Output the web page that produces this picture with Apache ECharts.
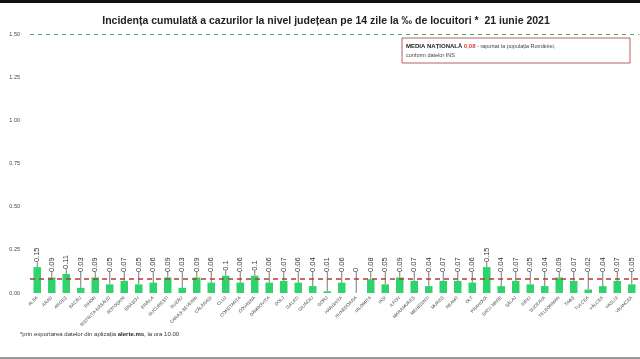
<!DOCTYPE html>
<html><head><meta charset="utf-8">
<script src="https://cdn.jsdelivr.net/npm/echarts@6/dist/echarts.min.js"></script>
<style>html,body{margin:0;padding:0;background:#fff}#c{width:640px;height:359px}</style>
</head><body><div id="c"></div>
<script>
const counties = ["ALBA","ARAD","ARGEȘ","BACĂU","BIHOR","BISTRIȚA-NĂSĂUD","BOTOȘANI","BRAȘOV","BRĂILA","BUCUREȘTI","BUZĂU","CARAȘ-SEVERIN","CĂLĂRAȘI","CLUJ","CONSTANȚA","COVASNA","DÂMBOVIȚA","DOLJ","GALAȚI","GIURGIU","GORJ","HARGHITA","HUNEDOARA","IALOMIȚA","IAȘI","ILFOV","MARAMUREȘ","MEHEDINȚI","MUREȘ","NEAMȚ","OLT","PRAHOVA","SATU MARE","SĂLAJ","SIBIU","SUCEAVA","TELEORMAN","TIMIȘ","TULCEA","VÂLCEA","VASLUI","VRANCEA"];
const incidence = [0.15,0.09,0.11,0.03,0.09,0.05,0.07,0.05,0.06,0.09,0.03,0.09,0.06,0.1,0.06,0.1,0.06,0.07,0.06,0.04,0.01,0.06,0,0.08,0.05,0.09,0.07,0.04,0.07,0.07,0.06,0.15,0.04,0.07,0.05,0.04,0.09,0.07,0.02,0.04,0.07,0.05];
const nationalAverage = 0.08;
const thresholdLine = 1.5;
const yTicks = [0,0.25,0.5,0.75,1,1.25,1.5];

const chart = echarts.init(document.getElementById('c'));
chart.setOption({
  animation:false,
  backgroundColor:'#fff',
  title:{
    text:'Incidența cumulată a cazurilor la nivel județean pe 14 zile la ‰ de locuitori *  21 iunie 2021',
    left:321, top:11, textAlign:'center',
    textStyle:{fontFamily:'Liberation Sans',fontSize:10.5,fontWeight:'bold',color:'#222'}
  },
  grid:{left:30,right:1,top:34,bottom:66},
  xAxis:{
    type:'category', data:counties,
    axisLine:{show:false}, axisTick:{show:false},
    axisLabel:{interval:0,rotate:45,fontSize:4.5,color:'#444',margin:4,fontFamily:'Liberation Sans'}
  },
  yAxis:{
    type:'value', min:yTicks[0], max:yTicks[yTicks.length-1], interval:0.25,
    splitLine:{show:false}, axisLine:{show:false}, axisTick:{show:false},
    axisLabel:{fontSize:5.5,color:'#444',margin:10,formatter:v=>v.toFixed(2),fontFamily:'Liberation Sans'}
  },
  series:[{
    type:'bar', data:incidence, barWidth:7.5,
    itemStyle:{color:'#2fd36c'},
    label:{show:true,position:'top',rotate:90,align:'left',verticalAlign:'middle',fontSize:7.5,color:'#333',distance:3,fontFamily:'Liberation Sans'},
    labelLayout:function(p){
      const y = Math.min(p.rect.y - 5, 272);
      return {y:y};
    },
    labelLine:{show:true,lineStyle:{color:'#555',width:0.8}},
    markLine:{
      symbol:'none', silent:true, label:{show:false},
      data:[
        {yAxis:thresholdLine, lineStyle:{color:'#3cb371',type:[4,4],width:1.2}},
        {yAxis:nationalAverage, lineStyle:{color:'#b83a32',type:[5,4],width:1.6}}
      ]
    }
  }],
  graphic:[
    {type:'rect',shape:{x:0,y:0,width:640,height:3},style:{fill:'#111'}},
    {type:'rect',shape:{x:0,y:357,width:640,height:2},style:{fill:'#999'}},
    {type:'rect',shape:{x:402,y:38,width:228,height:25},style:{fill:'#fff',stroke:'#b56060',lineWidth:1}},
    {type:'text',left:406,top:42,style:{
      text:'{b|MEDIA NAȚIONALĂ} {r|0,08} - raportat la populația României,\nconform datelor INS',
      rich:{b:{fontWeight:'bold',fontSize:6,fill:'#222'},r:{fontWeight:'bold',fontSize:6,fill:'#e53935'}},
      fontSize:5.5,fill:'#444',lineHeight:9,fontFamily:'Liberation Sans'}},
    {type:'text',left:20,top:331,style:{
      text:'*prin exportarea datelor din aplicația {b|alerte.ms}, la ora 10.00',
      rich:{b:{fontWeight:'bold',fontSize:6,fill:'#222'}},
      fontSize:6,fill:'#333',fontFamily:'Liberation Sans'}}
  ]
});
</script></body></html>
